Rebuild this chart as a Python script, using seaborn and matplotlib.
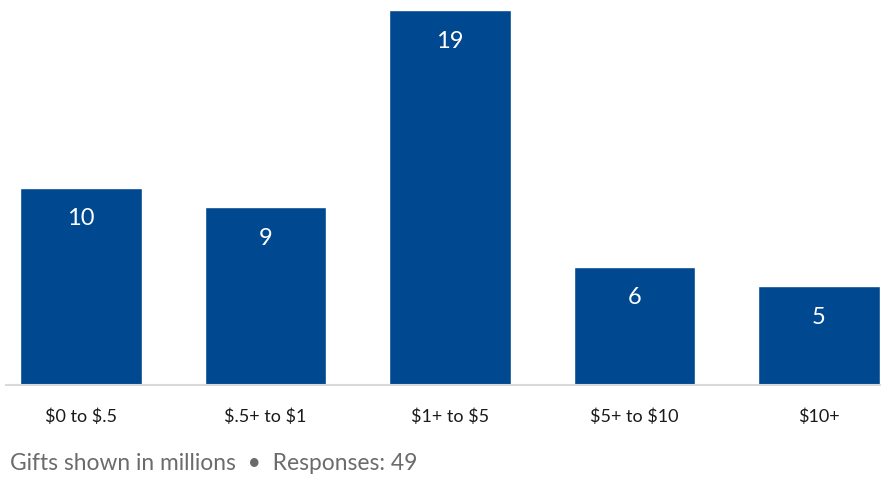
import matplotlib
matplotlib.use("Agg")
import matplotlib.pyplot as plt
import seaborn as sns
import pandas as pd

categories = ["$0 to $.5", "$.5+ to $1", "$1+ to $5", "$5+ to $10", "$10+"]
values = [10, 9, 19, 6, 5]
footnote = "Gifts shown in millions  \u2022  Responses: 49"

sns.set_theme(style="white")
plt.rcParams['font.family'] = ['Lato', 'DejaVu Sans']
plt.rcParams['text.parse_math'] = False

df = pd.DataFrame({"cat": categories, "val": values})

W, H = 881, 478
fig = plt.figure(figsize=(W / 100, H / 100), dpi=100)
ax = fig.add_axes([6 / W, (H - 385) / H, 1 - 6 / W, 385 / H])

sns.barplot(data=df, x="cat", y="val", color="#004990", saturation=1,
            width=0.661, ax=ax)

ax.set_xlim(-0.4065, 4.336)
ax.set_ylim(0, 19 * 385 / 375)

for i, v in enumerate(values):
    ax.annotate(str(v), (i, v), xytext=(0, -31), textcoords="offset pixels",
                ha="center", va="center", color="white", fontsize=17)

for s in ["top", "right", "left"]:
    ax.spines[s].set_visible(False)
ax.spines["bottom"].set_color("#d9d9d9")
ax.spines["bottom"].set_linewidth(1.5)
ax.set_yticks([])
ax.set_xlabel("")
ax.set_ylabel("")
ax.tick_params(axis="x", length=0, pad=17, labelsize=13, labelcolor="#1a1a1a")

fig.text(10 / W, 1 - 463 / H, footnote, ha="left", va="center",
         fontsize=16.4, color="#6b6b6b")

fig.savefig("out.png", dpi=100)
